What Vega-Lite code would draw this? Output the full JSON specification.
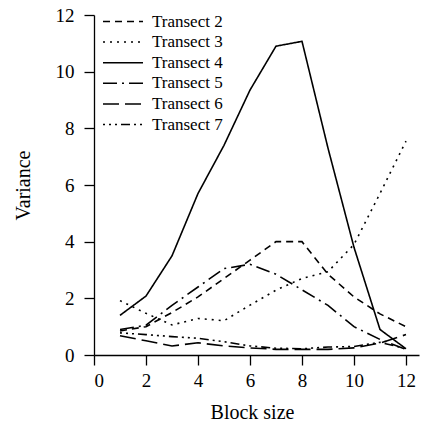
{
  "$schema": "https://vega.github.io/schema/vega-lite/v6.json",
  "width": 325,
  "height": 340,
  "autosize": {"type": "none"},
  "padding": {"left": 94, "top": 15, "right": 3, "bottom": 67},
  "background": "white",
  "config": {
    "view": {"stroke": null},
    "font": "Liberation Serif",
    "axis": {"grid": false, "domainColor": "black", "tickColor": "black", "labelColor": "black", "titleColor": "black", "labelFont": "Liberation Serif", "titleFont": "Liberation Serif", "labelFontSize": 19, "titleFontSize": 20, "titleFontWeight": "normal", "tickSize": 10, "domainWidth": 1.3, "tickWidth": 1.3}
  },
  "data": {"values": [
    {"t": "Transect 2", "x": 1, "v": 0.85}, {"t": "Transect 2", "x": 2, "v": 1.0}, {"t": "Transect 2", "x": 3, "v": 1.5}, {"t": "Transect 2", "x": 4, "v": 2.05}, {"t": "Transect 2", "x": 5, "v": 2.7}, {"t": "Transect 2", "x": 6, "v": 3.35}, {"t": "Transect 2", "x": 7, "v": 4.0}, {"t": "Transect 2", "x": 8, "v": 4.0}, {"t": "Transect 2", "x": 9, "v": 2.85}, {"t": "Transect 2", "x": 10, "v": 2.05}, {"t": "Transect 2", "x": 11, "v": 1.45}, {"t": "Transect 2", "x": 12, "v": 1.0},
    {"t": "Transect 3", "x": 1, "v": 1.92}, {"t": "Transect 3", "x": 2, "v": 1.47}, {"t": "Transect 3", "x": 3, "v": 1.06}, {"t": "Transect 3", "x": 4, "v": 1.29}, {"t": "Transect 3", "x": 5, "v": 1.21}, {"t": "Transect 3", "x": 6, "v": 1.76}, {"t": "Transect 3", "x": 7, "v": 2.29}, {"t": "Transect 3", "x": 8, "v": 2.7}, {"t": "Transect 3", "x": 9, "v": 2.94}, {"t": "Transect 3", "x": 10, "v": 3.9}, {"t": "Transect 3", "x": 11, "v": 5.7}, {"t": "Transect 3", "x": 12, "v": 7.55},
    {"t": "Transect 4", "x": 1, "v": 1.4}, {"t": "Transect 4", "x": 2, "v": 2.08}, {"t": "Transect 4", "x": 3, "v": 3.5}, {"t": "Transect 4", "x": 4, "v": 5.7}, {"t": "Transect 4", "x": 5, "v": 7.4}, {"t": "Transect 4", "x": 6, "v": 9.35}, {"t": "Transect 4", "x": 7, "v": 10.9}, {"t": "Transect 4", "x": 8, "v": 11.07}, {"t": "Transect 4", "x": 9, "v": 7.3}, {"t": "Transect 4", "x": 10, "v": 3.8}, {"t": "Transect 4", "x": 11, "v": 0.9}, {"t": "Transect 4", "x": 12, "v": 0.22},
    {"t": "Transect 5", "x": 1, "v": 0.9}, {"t": "Transect 5", "x": 2, "v": 1.05}, {"t": "Transect 5", "x": 3, "v": 1.75}, {"t": "Transect 5", "x": 4, "v": 2.4}, {"t": "Transect 5", "x": 5, "v": 3.05}, {"t": "Transect 5", "x": 6, "v": 3.2}, {"t": "Transect 5", "x": 7, "v": 2.85}, {"t": "Transect 5", "x": 8, "v": 2.3}, {"t": "Transect 5", "x": 9, "v": 1.75}, {"t": "Transect 5", "x": 10, "v": 1.0}, {"t": "Transect 5", "x": 11, "v": 0.55}, {"t": "Transect 5", "x": 12, "v": 0.2},
    {"t": "Transect 6", "x": 1, "v": 0.68}, {"t": "Transect 6", "x": 2, "v": 0.5}, {"t": "Transect 6", "x": 3, "v": 0.32}, {"t": "Transect 6", "x": 4, "v": 0.43}, {"t": "Transect 6", "x": 5, "v": 0.32}, {"t": "Transect 6", "x": 6, "v": 0.25}, {"t": "Transect 6", "x": 7, "v": 0.2}, {"t": "Transect 6", "x": 8, "v": 0.2}, {"t": "Transect 6", "x": 9, "v": 0.2}, {"t": "Transect 6", "x": 10, "v": 0.25}, {"t": "Transect 6", "x": 11, "v": 0.42}, {"t": "Transect 6", "x": 12, "v": 0.72},
    {"t": "Transect 7", "x": 1, "v": 0.78}, {"t": "Transect 7", "x": 2, "v": 0.72}, {"t": "Transect 7", "x": 3, "v": 0.65}, {"t": "Transect 7", "x": 4, "v": 0.59}, {"t": "Transect 7", "x": 5, "v": 0.47}, {"t": "Transect 7", "x": 6, "v": 0.32}, {"t": "Transect 7", "x": 7, "v": 0.24}, {"t": "Transect 7", "x": 8, "v": 0.22}, {"t": "Transect 7", "x": 9, "v": 0.28}, {"t": "Transect 7", "x": 10, "v": 0.3}, {"t": "Transect 7", "x": 11, "v": 0.45}, {"t": "Transect 7", "x": 12, "v": 0.22}
  ]},
  "mark": {"type": "line", "color": "black", "strokeWidth": 1.6},
  "encoding": {
    "x": {"field": "x", "type": "quantitative", "scale": {"domain": [0, 12.5], "nice": false, "zero": true}, "axis": {"values": [0, 2, 4, 6, 8, 10, 12], "title": "Block size", "titlePadding": 12, "titleX": 158, "labelPadding": 6}},
    "y": {"field": "v", "type": "quantitative", "scale": {"domain": [0, 12], "nice": false}, "axis": {"values": [0, 2, 4, 6, 8, 10, 12], "title": "Variance", "titlePadding": 22, "labelPadding": 10}},
    "strokeDash": {"field": "t", "type": "nominal",
      "scale": {"domain": ["Transect 2", "Transect 3", "Transect 4", "Transect 5", "Transect 6", "Transect 7"],
                "range": [[7, 5], [2, 5], [1, 0], [14, 5, 2, 5], [16, 6], [2, 4, 2, 4, 2, 4, 9, 4]]},
      "legend": {"title": null, "orient": "none", "legendX": 8, "legendY": -2.5, "symbolType": "stroke", "symbolSize": 1600, "symbolStrokeWidth": 1.5, "symbolStrokeColor": "black", "labelFontSize": 17, "labelFont": "Liberation Serif", "labelColor": "black", "labelOffset": 8, "clipHeight": 18, "rowPadding": 2.6}
    }
  }
}
